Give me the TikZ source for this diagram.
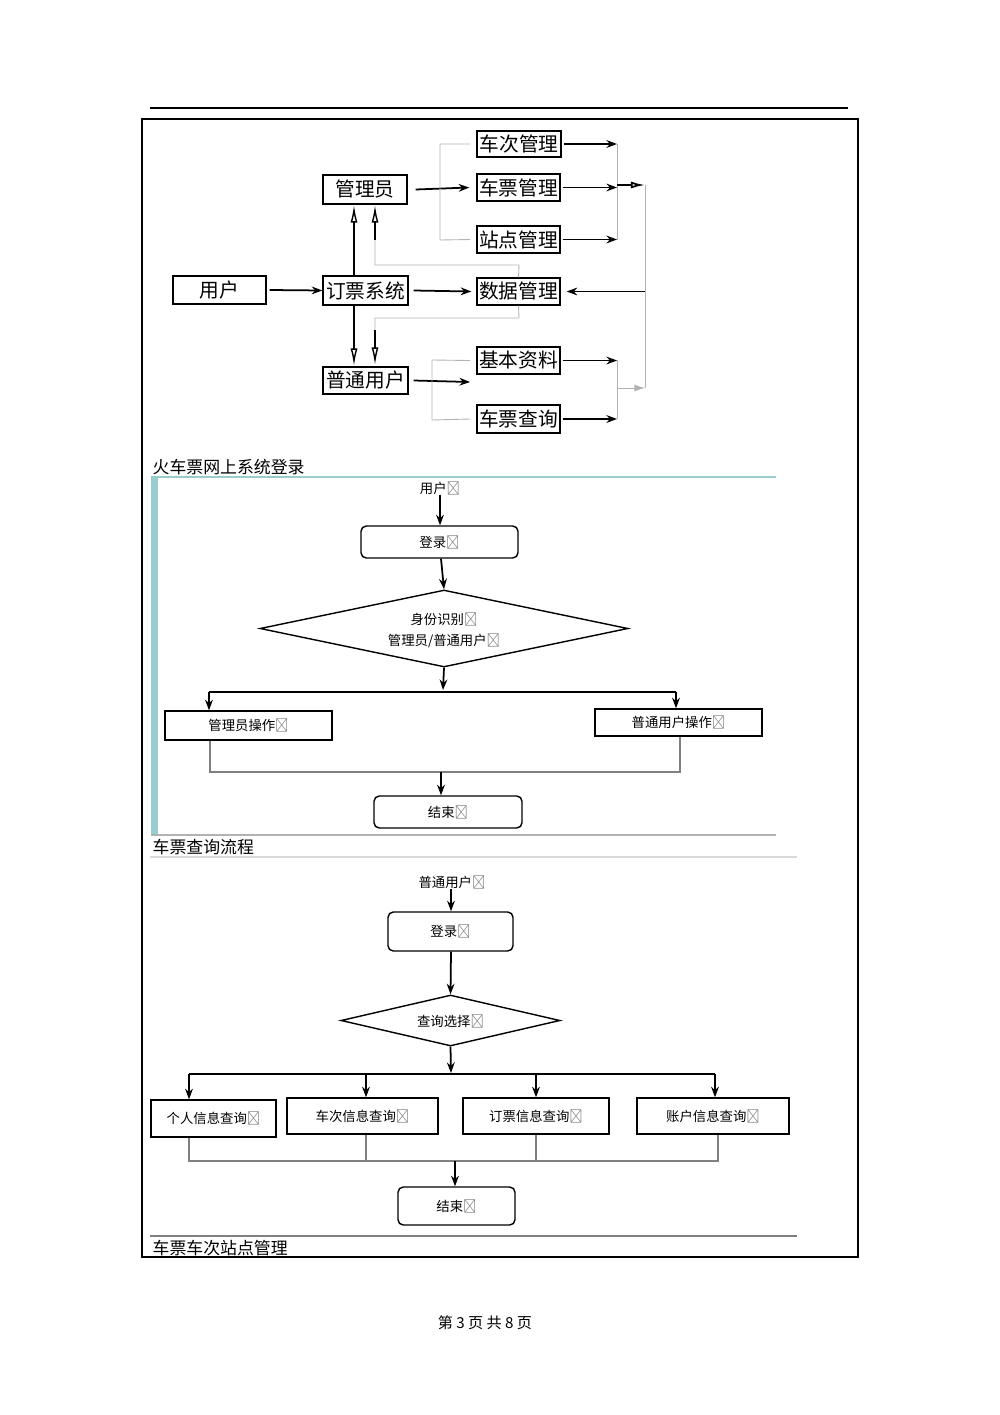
\documentclass[tikz,border=0pt]{standalone}
\usepackage{fontspec}
\setmainfont{Noto Sans CJK SC}
\usetikzlibrary{arrows.meta,shapes.geometric,calc}
\begin{document}
\begin{tikzpicture}[x=0.01cm,y=-0.01cm,
  bx/.style={draw,minimum width=#1*0.01cm,inner sep=0,font=\fontsize{5.6}{6}\selectfont},
  bx/.default=84,
  fb/.style={draw,inner sep=0,font=\fontsize{3.8}{4}\selectfont},
  rb/.style={fb,rounded corners=1.5pt},
  ar/.style={-{Stealth[length=3pt,width=2.2pt]},line width=0.5pt},
  thn/.style={draw=gray!60,line width=0.25pt},
  captxt/.style={anchor=west,inner sep=0,font=\fontsize{4.8}{5}\selectfont}]
\useasboundingbox (0,0) rectangle (1000,1415);
\draw[line width=0.6pt] (150,108) -- (848,108);
\draw[line width=0.4pt] (142,119) rectangle (858,1257);
% ---- top diagram
\node[bx=84,minimum height=29*0.01cm] (gly) at (365,189.5) {管理员};
\node[bx=93,minimum height=28*0.01cm] (yh) at (219.5,290) {用户};
\node[bx=85,minimum height=29*0.01cm] (dp) at (365.5,290.5) {订票系统};
\node[bx=85,minimum height=27*0.01cm] (pt) at (365.5,380.5) {普通用户};
\node[bx=84,minimum height=26*0.01cm] (cc) at (519,144) {车次管理};
\node[bx=83,minimum height=27*0.01cm] (cp) at (518.5,187.5) {车票管理};
\node[bx=83,minimum height=27*0.01cm] (zd) at (518.5,239.5) {站点管理};
\node[bx=83,minimum height=27*0.01cm] (sj) at (518.5,291.5) {数据管理};
\node[bx=83,minimum height=27*0.01cm] (jb) at (518.5,360.5) {基本资料};
\node[bx=83,minimum height=28*0.01cm] (cx) at (518.5,419) {车票查询};
\coordinate (rv1) at (645,185);
\coordinate (rv2) at (645,388);
\draw[ar] ($(yh.east)+(3,0)$) -- (dp.west);
\draw[ar] ($(dp.east)+(5,0)$) -- ($(sj.west)+(-5,0)$);
\draw[ar] ($(gly.east)+(8,0)$) -- ($(cp.west)+(-7,0)$);
\draw[thn] ($(cc.west)+(-6,0)$) -- (440,144) -- (440,240) -- ($(zd.west)+(-6,0)$);
\draw[ar] ($(cc.east)+(2,0)$) -- (617,144);
\draw[ar] ($(cp.east)+(2,0)$) -- (617,187.5);
\draw[ar] ($(zd.east)+(2,0)$) -- (617,239.5);
\draw[thn] (617,144) -- (617,240);
\draw[-{Latex[open,length=4pt,width=2pt]},line width=0.5pt] (617,185) -- (rv1);
\draw[thn] (rv1) -- (rv2);
\draw[ar] (645,291.5) -- ($(sj.east)+(6,0)$);
\draw[ar] ($(pt.east)+(5,0)$) -- (470,382);
\draw[thn] ($(jb.west)+(-6,0)$) -- (432,360) -- (432,420) -- ($(cx.west)+(-6,0)$);
\draw[ar] ($(jb.east)+(2,0)$) -- (617,360.5);
\draw[ar] ($(cx.east)+(2,0)$) -- (617,419);
\draw[thn] (617,360) -- (617,419);
\draw[thn,-{Latex[length=3pt,width=2pt]}] (617,388) -- (rv2);
\draw[-{Latex[open,length=5pt,width=2pt]},line width=0.4pt] (354,276) -- (354,205);
\draw[-{Latex[open,length=5pt,width=2pt]},line width=0.4pt] (354,305) -- (354,366);
\draw[-{Latex[open,length=5pt,width=2pt]},line width=0.4pt] (375,240) -- (375,205);
\draw[thn] (375,240) -- (375,265) -- (519,265) -- (sj.north);
\draw[-{Latex[open,length=5pt,width=2pt]},line width=0.4pt] (375,330) -- (375,365);
\draw[thn] (sj.south) -- (519,318) -- (375,318) -- (375,330);
% ---- caption 1
\node[captxt] (c1) at (152,467) {火车票网上系统登录};
\fill[teal!40] (151,477) rectangle (158,835);
\draw[teal!40,line width=0.4pt] (151,477) -- (776,477);
\draw[gray!60,line width=0.4pt] (151,835) -- (776,835);
\node[fb,draw=none] (u2) at (440,488) {用户\textcolor{gray}{↵}};
\node[rb,minimum width=157*0.01cm,minimum height=32*0.01cm] (dl2) at (439.5,542) {登录\textcolor{gray}{↵}};
\node[diamond,draw,inner sep=0,minimum width=368*0.01cm,minimum height=77*0.01cm,aspect=4.8] (sf) at (444,628.5) {};
\node[fb,draw=none,align=center] (sft) at (444,630) {身份识别\textcolor{gray}{↵}\\[2pt]管理员/普通用户\textcolor{gray}{↵}};
\node[fb,minimum width=167*0.01cm,minimum height=29*0.01cm] (go) at (248.5,725.5) {管理员操作\textcolor{gray}{↵}};
\node[fb,minimum width=167*0.01cm,minimum height=27*0.01cm] (po) at (678.5,722.5) {普通用户操作\textcolor{gray}{↵}};
\node[rb,minimum width=148*0.01cm,minimum height=32*0.01cm] (js2) at (448,812) {结束\textcolor{gray}{↵}};
\draw[ar] (u2.south -| 440,0) -- (dl2.north -| 440,0);
\draw[ar] (dl2.south -| 441,0) -- (sf.north);
\draw[ar] (sf.south) -- (443,690);
\draw[line width=0.4pt] (209,692) -- (676,692);
\draw[ar] (209,692) -- (go.north -| 209,0);
\draw[ar] (676,692) -- (po.north -| 676,0);
\draw[line width=0.4pt,gray] (go.south -| 210,0) -- (210,772) -- (680,772) -- (po.south -| 680,0);
\draw[ar] (441,772) -- (js2.north -| 441,0);
% ---- caption 2
\node[captxt] (c2) at (152,847) {车票查询流程};
\draw[gray!30,line width=0.4pt] (150,857) -- (797,857);
\node[fb,draw=none] (u3) at (452,882) {普通用户\textcolor{gray}{↵}};
\node[rb,minimum width=125*0.01cm,minimum height=39*0.01cm] (dl3) at (450.5,931.5) {登录\textcolor{gray}{↵}};
\node[diamond,draw,inner sep=0,minimum width=219*0.01cm,minimum height=51*0.01cm,aspect=4.3] (cs) at (450.5,1020.5) {};
\node[fb,draw=none] (cst) at (450.5,1021) {查询选择\textcolor{gray}{↵}};
\node[fb,minimum width=125*0.01cm,minimum height=37*0.01cm] (q1) at (213.5,1118.5) {个人信息查询\textcolor{gray}{↵}};
\node[fb,minimum width=151*0.01cm,minimum height=36*0.01cm] (q2) at (362.5,1116) {车次信息查询\textcolor{gray}{↵}};
\node[fb,minimum width=146*0.01cm,minimum height=36*0.01cm] (q3) at (536,1116) {订票信息查询\textcolor{gray}{↵}};
\node[fb,minimum width=152*0.01cm,minimum height=36*0.01cm] (q4) at (713,1116) {账户信息查询\textcolor{gray}{↵}};
\node[rb,minimum width=117*0.01cm,minimum height=38*0.01cm] (js3) at (456.5,1206) {结束\textcolor{gray}{↵}};
\draw[ar] (u3.south -| 451,0) -- (dl3.north -| 451,0);
\draw[ar] (dl3.south -| 451,0) -- (cs.north);
\draw[ar] (cs.south) -- (451,1073);
\draw[line width=0.4pt] (189,1074) -- (715,1074);
\draw[ar] (189,1074) -- (q1.north -| 189,0);
\draw[ar] (366,1074) -- (q2.north -| 366,0);
\draw[ar] (536,1074) -- (q3.north -| 536,0);
\draw[ar] (715,1074) -- (q4.north -| 715,0);
\draw[line width=0.4pt,gray] (q1.south -| 189,0) -- (189,1161) -- (718,1161) -- (q4.south -| 718,0);
\draw[line width=0.4pt,gray] (q2.south -| 366,0) -- (366,1161);
\draw[line width=0.4pt,gray] (q3.south -| 536,0) -- (536,1161);
\draw[ar] (455,1161) -- (js3.north -| 455,0);
\draw[gray,line width=0.4pt] (150,1236) -- (797,1236);
\node[captxt] (c3) at (152,1248) {车票车次站点管理};
\node[inner sep=0,font=\fontsize{4.3}{5}\selectfont] (ft) at (485,1323) {第 3 页 共 8 页};
\end{tikzpicture}
\end{document}
